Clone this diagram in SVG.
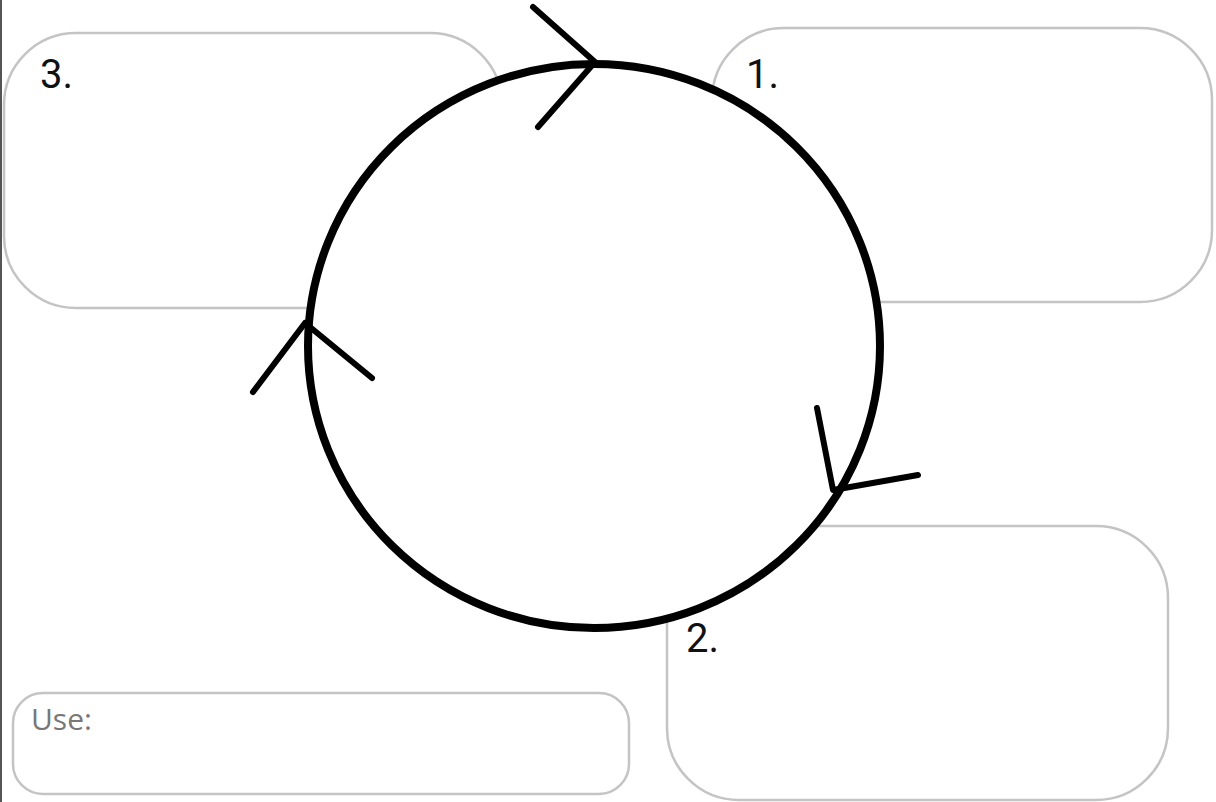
<svg xmlns="http://www.w3.org/2000/svg" width="1216" height="802" viewBox="0 0 1216 802">
<style>
.box{fill:#fff;stroke:#c4c4c4;stroke-width:2.5}
.num{font-family:"Roboto","Liberation Sans",sans-serif;font-size:40px;fill:#111}
.use{font-family:"Open Sans","Liberation Sans",sans-serif;font-size:30px;fill:#777}
.arr{fill:none;stroke:#000;stroke-width:6;stroke-linecap:round;stroke-linejoin:round}
</style>
<rect x="0" y="0" width="1216" height="802" fill="#fff"/>
<line x1="1" y1="0" x2="1" y2="802" stroke="#555" stroke-width="2"/>
<g id="box3"><rect class="box" x="4" y="33" width="498" height="275" rx="72"/><text class="num" x="40" y="88">3.</text></g>
<g id="box1"><rect class="box" x="712" y="28" width="500" height="274" rx="72"/><text class="num" x="746" y="88">1.</text></g>
<g id="box2"><rect class="box" x="667" y="526" width="501" height="274" rx="72"/><text class="num" x="686" y="652">2.</text></g>
<g id="use"><rect class="box" x="13" y="693" width="616" height="101" rx="30"/><text class="use" x="31" y="730">Use:</text></g>
<g id="cycle">
<ellipse cx="594" cy="346" rx="286" ry="282" fill="#fff" stroke="#000" stroke-width="8"/>
</g>
<g id="connectors">
<polyline class="arr" points="533,7 595,62 538,127"/>
<polyline class="arr" points="253,392 305,323 372,378"/>
<polyline class="arr" points="817,408 833,490 918,475"/>
</g>
</svg>
